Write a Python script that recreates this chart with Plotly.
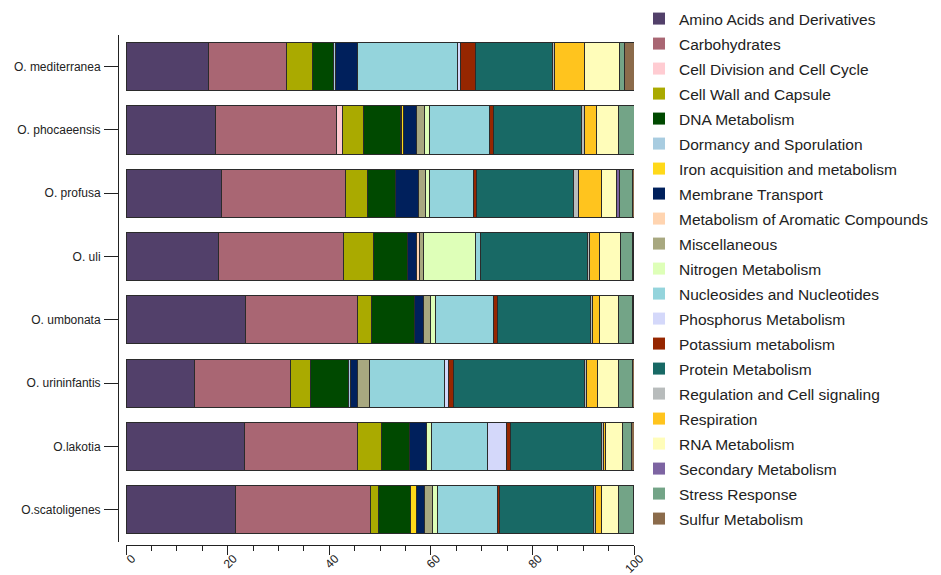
import plotly.graph_objects as go

species = ["O. mediterranea", "O. phocaeensis", "O. profusa", "O. uli",
           "O. umbonata", "O. urininfantis", "O.lakotia", "O.scatoligenes"]

categories = [
    "Amino Acids and Derivatives", "Carbohydrates", "Cell Division and Cell Cycle",
    "Cell Wall and Capsule", "DNA Metabolism", "Dormancy and Sporulation",
    "Iron acquisition and metabolism", "Membrane Transport",
    "Metabolism of Aromatic Compounds", "Miscellaneous", "Nitrogen Metabolism",
    "Nucleosides and Nucleotides", "Phosphorus Metabolism", "Potassium metabolism",
    "Protein Metabolism", "Regulation and Cell signaling", "Respiration",
    "RNA Metabolism", "Secondary Metabolism", "Stress Response", "Sulfur Metabolism",
]

colors = [
    "#52406A", "#A96673", "#FFCCD2", "#AAAA00", "#004900", "#A8CCE0", "#FFD91A",
    "#00205C", "#FFD4B0", "#A8A880", "#DEFFB8", "#94D4DC", "#D4D8FA", "#962600",
    "#186965", "#B8BCBC", "#FFC41E", "#FFFDBA", "#7D64A2", "#73A487", "#8B6B4B",
]

amino_acids   = [16.3, 17.7, 18.8, 18.3, 23.6, 13.5, 23.4, 21.5]
carbohydrates = [15.2, 23.8, 24.5, 24.5, 21.9, 18.8, 22.2, 26.6]
cell_division = [0, 1.2, 0, 0, 0, 0, 0, 0]
cell_wall     = [5.2, 4.1, 4.3, 6.0, 2.9, 4.1, 4.7, 1.6]
dna           = [4.2, 7.2, 5.4, 6.6, 8.3, 7.4, 5.6, 6.3]
dormancy      = [0.4, 0.3, 0, 0, 0, 0.3, 0, 0]
iron          = [0, 0.4, 0, 0, 0, 0, 0, 1.2]
membrane      = [4.2, 2.4, 4.5, 1.8, 1.8, 1.4, 3.3, 1.6]
aromatic      = [0, 0, 0, 0.5, 0, 0, 0, 0]
miscellaneous = [0, 1.6, 1.4, 0.9, 1.4, 2.4, 0, 1.6]
nitrogen      = [0, 1.0, 0.8, 10.2, 1.0, 0, 1.0, 1.0]
nucleosides   = [19.8, 11.9, 8.7, 0.9, 11.5, 14.8, 10.9, 11.7]
phosphorus    = [0.5, 0, 0, 0, 0, 0.8, 3.8, 0]
potassium     = [2.9, 0.7, 0.5, 0, 0.8, 0.9, 0.8, 0.5]
protein       = [15.2, 17.3, 19.2, 21.2, 18.2, 25.9, 17.9, 18.5]
regulation    = [0.5, 0.7, 1.0, 0.3, 0.5, 0.3, 0.3, 0.3]
respiration   = [5.8, 2.4, 4.5, 2.1, 1.3, 2.2, 0.5, 1.2]
rna           = [7.0, 4.3, 3.0, 4.1, 3.7, 4.1, 3.4, 3.3]
secondary     = [0, 0, 0.6, 0, 0, 0, 0, 0]
stress        = [1.0, 3.0, 2.6, 2.3, 2.8, 2.8, 1.8, 3.0]
sulfur        = [1.8, 0.2, 0.4, 0.2, 0.2, 0.4, 0.4, 0.2]

series = [amino_acids, carbohydrates, cell_division, cell_wall, dna, dormancy, iron,
          membrane, aromatic, miscellaneous, nitrogen, nucleosides, phosphorus,
          potassium, protein, regulation, respiration, rna, secondary, stress, sulfur]

x_ticks = [0, 20, 40, 60, 80, 100]

FONT = "Liberation Sans, Arial, Helvetica, sans-serif"

fig = go.Figure()
for name, vals, col in zip(categories, series, colors):
    fig.add_trace(go.Bar(
        y=species, x=[v if v > 0 else None for v in vals], orientation="h",
        name=name, marker=dict(color=col, line=dict(color="#2b2b2b", width=1)),
        width=0.76, showlegend=False,
    ))
# legend-only entries (swatches without outline)
for name, col in zip(categories, colors):
    fig.add_trace(go.Bar(
        y=[None], x=[None], orientation="h", name=name, legendgroup=name,
        marker=dict(color=col, line=dict(width=0)), showlegend=True,
    ))

# page has an 8px body margin: work in figure coordinates (page - 8)
OFF = 8
W, H = 941 - OFF, 575 - OFF
left, right, top, bottom = 118 - OFF, 634 - OFF, 32 - OFF, 545 - OFF
pw, ph = right - left, bottom - top

fig.update_layout(
    width=W, height=H, barmode="stack",
    margin=dict(l=left, r=W - right, t=top, b=H - bottom, pad=0, autoexpand=False),
    paper_bgcolor="white", plot_bgcolor="white",
    font=dict(family=FONT, size=12, color="#222"),
    legend=dict(
        x=(639 - OFF - left) / pw, xanchor="left",
        y=(bottom + 6) / ph, yanchor="top",
        font=dict(family=FONT, size=15.5, color="#222"),
        tracegroupgap=1.85, traceorder="grouped", maxheight=1,
        bgcolor="rgba(0,0,0,0)",
    ),
    xaxis=dict(
        range=[0, 100], domain=[8 / pw, 1], tickvals=x_ticks,
        ticks="outside", ticklen=9, tickwidth=1, tickcolor="#222",
        showline=True, linecolor="#222", linewidth=1, showgrid=False, zeroline=False,
        tickangle=-45, tickfont=dict(size=12, color="#222"),
        ticklabelstandoff=-8, ticklabelshift=6,
        minor=dict(dtick=5, tick0=0, ticks="outside", ticklen=5, tickcolor="#222", showgrid=False),
        anchor="free", position=0, automargin=False,
    ),
    yaxis=dict(
        categoryorder="array", categoryarray=species, autorange="reversed",
        domain=[3.5 / ph, 1 - 3.0 / ph],
        ticks="outside", ticklen=14, tickwidth=1, tickcolor="#222",
        showline=True, linecolor="#222", linewidth=1, showgrid=False, zeroline=False,
        tickfont=dict(size=12, color="#222"), ticklabelstandoff=1,
        anchor="free", position=0, automargin=False,
    ),
)

fig.write_html("out.html")
